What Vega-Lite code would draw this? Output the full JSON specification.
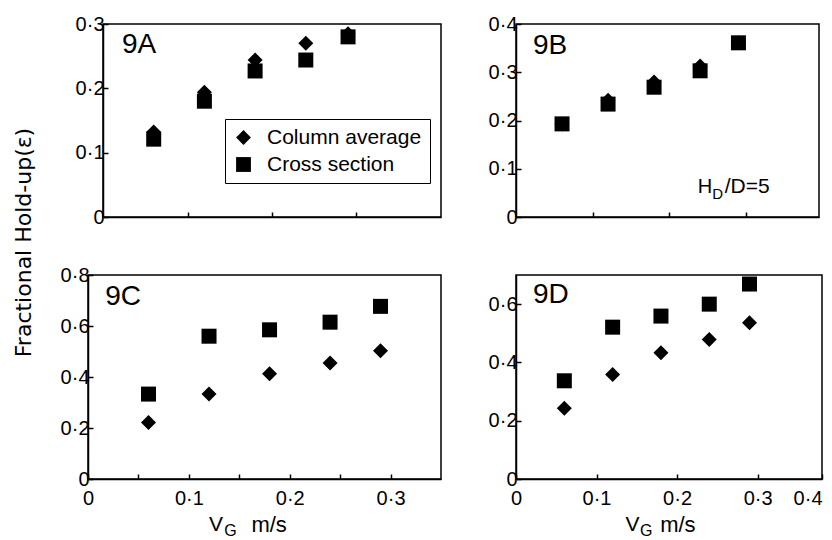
{
  "$schema": "https://vega.github.io/schema/vega-lite/v6.json",
  "background": "white",
  "padding": {"left": 13, "top": 13, "right": 2, "bottom": 0},
  "title": {"text": "Fractional Hold-up(ε)", "orient": "left", "anchor": "middle", "font": "DejaVu Sans", "fontSize": 22, "fontWeight": "normal", "color": "black", "offset": 17, "dx": 34},
  "datasets": {
    "holdup": [
      {"panel": "9A", "series": "Column average", "vg": 0.06, "holdup": 0.132},
      {"panel": "9A", "series": "Column average", "vg": 0.12, "holdup": 0.194},
      {"panel": "9A", "series": "Column average", "vg": 0.18, "holdup": 0.244},
      {"panel": "9A", "series": "Column average", "vg": 0.24, "holdup": 0.270},
      {"panel": "9A", "series": "Column average", "vg": 0.29, "holdup": 0.285},
      {"panel": "9A", "series": "Cross section", "vg": 0.06, "holdup": 0.121},
      {"panel": "9A", "series": "Cross section", "vg": 0.12, "holdup": 0.180},
      {"panel": "9A", "series": "Cross section", "vg": 0.18, "holdup": 0.227},
      {"panel": "9A", "series": "Cross section", "vg": 0.24, "holdup": 0.244},
      {"panel": "9A", "series": "Cross section", "vg": 0.29, "holdup": 0.280},
      {"panel": "9B", "series": "Column average", "vg": 0.06, "holdup": 0.193},
      {"panel": "9B", "series": "Column average", "vg": 0.12, "holdup": 0.242},
      {"panel": "9B", "series": "Column average", "vg": 0.18, "holdup": 0.280},
      {"panel": "9B", "series": "Column average", "vg": 0.24, "holdup": 0.313},
      {"panel": "9B", "series": "Column average", "vg": 0.29, "holdup": 0.361},
      {"panel": "9B", "series": "Cross section", "vg": 0.06, "holdup": 0.193},
      {"panel": "9B", "series": "Cross section", "vg": 0.12, "holdup": 0.234},
      {"panel": "9B", "series": "Cross section", "vg": 0.18, "holdup": 0.269},
      {"panel": "9B", "series": "Cross section", "vg": 0.24, "holdup": 0.303},
      {"panel": "9B", "series": "Cross section", "vg": 0.29, "holdup": 0.361},
      {"panel": "9C", "series": "Column average", "vg": 0.06, "holdup": 0.222},
      {"panel": "9C", "series": "Column average", "vg": 0.12, "holdup": 0.333},
      {"panel": "9C", "series": "Column average", "vg": 0.18, "holdup": 0.413},
      {"panel": "9C", "series": "Column average", "vg": 0.24, "holdup": 0.455},
      {"panel": "9C", "series": "Column average", "vg": 0.29, "holdup": 0.503},
      {"panel": "9C", "series": "Cross section", "vg": 0.06, "holdup": 0.333},
      {"panel": "9C", "series": "Cross section", "vg": 0.12, "holdup": 0.560},
      {"panel": "9C", "series": "Cross section", "vg": 0.18, "holdup": 0.585},
      {"panel": "9C", "series": "Cross section", "vg": 0.24, "holdup": 0.615},
      {"panel": "9C", "series": "Cross section", "vg": 0.29, "holdup": 0.677},
      {"panel": "9D", "series": "Column average", "vg": 0.06, "holdup": 0.243},
      {"panel": "9D", "series": "Column average", "vg": 0.12, "holdup": 0.359},
      {"panel": "9D", "series": "Column average", "vg": 0.18, "holdup": 0.433},
      {"panel": "9D", "series": "Column average", "vg": 0.24, "holdup": 0.479},
      {"panel": "9D", "series": "Column average", "vg": 0.29, "holdup": 0.536},
      {"panel": "9D", "series": "Cross section", "vg": 0.06, "holdup": 0.337},
      {"panel": "9D", "series": "Cross section", "vg": 0.12, "holdup": 0.521},
      {"panel": "9D", "series": "Cross section", "vg": 0.18, "holdup": 0.559},
      {"panel": "9D", "series": "Cross section", "vg": 0.24, "holdup": 0.600},
      {"panel": "9D", "series": "Cross section", "vg": 0.29, "holdup": 0.669}
    ]
  },
  "config": {
    "view": {"stroke": "black", "strokeWidth": 1.5},
    "font": "Liberation Sans",
    "axis": {"grid": false, "domainColor": "black", "domainWidth": 1.5, "tickColor": "black", "tickWidth": 1.5, "tickSize": -5, "labelColor": "black", "labelFont": "Liberation Sans", "labelFontSize": 20, "labelOverlap": false, "labelBound": false, "labelPadding": 4, "title": null},
    "axisX": {"labelFlush": false, "labelPadding": 14},
    "text": {"color": "black", "font": "Liberation Sans"}
  },
  "spacing": 36,
  "resolve": {"scale": {"shape": "independent"}, "legend": {"shape": "independent"}},
  "vconcat": [
    {
      "spacing": 33,
      "resolve": {"scale": {"shape": "independent"}, "legend": {"shape": "independent"}},
      "hconcat": [
        {
          "bounds": "flush",
          "spacing": 14,
          "resolve": {"scale": {"shape": "independent"}, "legend": {"shape": "independent"}},
          "hconcat": [
            {
              "width": 1, "height": 1,
              "view": {"stroke": null},
              "data": {"values": []},
              "mark": {"type": "point", "opacity": 0},
              "encoding": {}
            },
            {
              "width": 338, "height": 193,
              "layer": [
                {
                  "data": {"name": "holdup"},
                  "transform": [{"filter": "datum.panel == '9A'"}],
                  "mark": {"type": "point", "filled": true, "opacity": 1, "color": "black", "size": 225},
                  "encoding": {
                    "x": {"field": "vg", "type": "quantitative", "scale": {"domain": [0, 0.4], "nice": false}, "axis": {"values": [0.1, 0.2, 0.3], "labels": false, "title": null}},
                    "y": {"field": "holdup", "type": "quantitative", "scale": {"domain": [0, 0.3], "nice": false}, "axis": {"values": [0, 0.05, 0.1, 0.15, 0.2, 0.25, 0.3], "title": null, "minExtent": 34, "maxExtent": 34, "labelExpr": "abs(datum.value*10 - round(datum.value*10)) > 0.01 ? '' : (datum.value == 0 ? '0' : replace(format(datum.value, '.1f'), '.', '·'))"}},
                    "shape": {"field": "series", "type": "nominal", "scale": {"domain": ["Column average", "Cross section"], "range": ["diamond", "square"]},
                      "legend": {"title": null, "orient": "none", "legendX": 122, "legendY": 95, "strokeColor": "black", "fillColor": "white", "padding": 8, "labelFont": "Liberation Sans", "labelFontSize": 21, "labelColor": "black", "symbolSize": 220, "symbolFillColor": "black", "symbolStrokeColor": "black", "symbolOpacity": 1, "labelOffset": 13, "rowPadding": 5, "labelLimit": 300}}
                  }
                },
                {
                  "data": {"values": [{}]},
                  "mark": {"type": "text", "text": "9A", "align": "left", "baseline": "alphabetic", "fontSize": 28},
                  "encoding": {"x": {"datum": 0.0225}, "y": {"datum": 0.255}}
                }
              ]
            }
          ]
        },
        {
          "width": 303, "height": 193,
          "layer": [
            {
              "data": {"name": "holdup"},
              "transform": [{"filter": "datum.panel == '9B'"}],
              "mark": {"type": "point", "filled": true, "opacity": 1, "color": "black", "size": 225},
              "encoding": {
                "x": {"field": "vg", "type": "quantitative", "scale": {"domain": [0, 0.395], "nice": false}, "axis": {"values": [0.1, 0.2, 0.3], "labels": false, "title": null}},
                "y": {"field": "holdup", "type": "quantitative", "scale": {"domain": [0, 0.4], "nice": false}, "axis": {"values": [0, 0.05, 0.1, 0.15, 0.2, 0.25, 0.3, 0.35, 0.4], "title": null, "minExtent": 40, "maxExtent": 40, "labelExpr": "abs(datum.value*10 - round(datum.value*10)) > 0.01 ? '' : (datum.value == 0 ? '0' : replace(format(datum.value, '.1f'), '.', '·'))"}},
                "shape": {"field": "series", "type": "nominal", "scale": {"domain": ["Column average", "Cross section"], "range": ["diamond", "square"]}, "legend": null}
              }
            },
            {
              "data": {"values": [{}]},
              "mark": {"type": "text", "text": "9B", "align": "left", "baseline": "alphabetic", "fontSize": 28},
              "encoding": {"x": {"datum": 0.022}, "y": {"datum": 0.338}}
            },
            {
              "data": {"values": [{}]},
              "mark": {"type": "text", "text": "H", "align": "left", "baseline": "alphabetic", "fontSize": 20},
              "encoding": {"x": {"datum": 0.237}, "y": {"datum": 0.05}}
            },
            {
              "data": {"values": [{}]},
              "mark": {"type": "text", "text": "D", "align": "left", "baseline": "alphabetic", "fontSize": 15},
              "encoding": {"x": {"datum": 0.256}, "y": {"datum": 0.037}}
            },
            {
              "data": {"values": [{}]},
              "mark": {"type": "text", "text": "/D=5", "align": "left", "baseline": "alphabetic", "fontSize": 21},
              "encoding": {"x": {"datum": 0.272}, "y": {"datum": 0.05}}
            }
          ]
        }
      ]
    },
    {
      "spacing": 33,
      "resolve": {"scale": {"shape": "independent"}, "legend": {"shape": "independent"}},
      "hconcat": [
        {
          "width": 353, "height": 204,
          "layer": [
            {
              "data": {"name": "holdup"},
              "transform": [{"filter": "datum.panel == '9C'"}],
              "mark": {"type": "point", "filled": true, "opacity": 1, "color": "black", "size": 225},
              "encoding": {
                "x": {"field": "vg", "type": "quantitative", "scale": {"domain": [0, 0.35], "nice": false}, "axis": {"values": [0, 0.05, 0.1, 0.15, 0.2, 0.25, 0.3], "title": null, "labelExpr": "abs(datum.value*10 - round(datum.value*10)) > 0.01 ? '' : (datum.value == 0 ? '0' : replace(format(datum.value, '.1f'), '.', '·'))"}},
                "y": {"field": "holdup", "type": "quantitative", "scale": {"domain": [0, 0.8], "nice": false}, "axis": {"values": [0, 0.1, 0.2, 0.3, 0.4, 0.5, 0.6, 0.7, 0.8], "title": null, "minExtent": 34, "maxExtent": 34, "labelExpr": "abs(datum.value*5 - round(datum.value*5)) > 0.01 ? '' : (datum.value == 0 ? '0' : replace(format(datum.value, '.1f'), '.', '·'))"}},
                "shape": {"field": "series", "type": "nominal", "scale": {"domain": ["Column average", "Cross section"], "range": ["diamond", "square"]}, "legend": null}
              }
            },
            {
              "data": {"values": [{}]},
              "mark": {"type": "text", "text": "9C", "align": "left", "baseline": "alphabetic", "fontSize": 28},
              "encoding": {"x": {"datum": 0.017}, "y": {"datum": 0.682}}
            },
            {
              "data": {"values": [{}]},
              "mark": {"type": "text", "text": "V", "align": "left", "baseline": "alphabetic", "fontSize": 21, "dy": 52},
              "encoding": {"x": {"datum": 0.12}, "y": {"datum": 0}}
            },
            {
              "data": {"values": [{}]},
              "mark": {"type": "text", "text": "G", "align": "left", "baseline": "alphabetic", "fontSize": 16, "dy": 57},
              "encoding": {"x": {"datum": 0.135}, "y": {"datum": 0}}
            },
            {
              "data": {"values": [{}]},
              "mark": {"type": "text", "text": "m/s", "align": "left", "baseline": "alphabetic", "fontSize": 22, "dy": 53},
              "encoding": {"x": {"datum": 0.162}, "y": {"datum": 0}}
            }
          ]
        },
        {
          "width": 306, "height": 204,
          "layer": [
            {
              "data": {"name": "holdup"},
              "transform": [{"filter": "datum.panel == '9D'"}],
              "mark": {"type": "point", "filled": true, "opacity": 1, "color": "black", "size": 225},
              "encoding": {
                "x": {"field": "vg", "type": "quantitative", "scale": {"domain": [0, 0.38], "nice": false}, "axis": {"values": [0, 0.1, 0.2, 0.3, 0.38], "title": null, "labelAlign": {"condition": {"test": "datum.value > 0.35", "value": "right"}, "value": "center"}, "labelExpr": "datum.value == 0 ? '0' : (datum.value > 0.35 ? '0·4' : replace(format(datum.value, '.1f'), '.', '·'))"}},
                "y": {"field": "holdup", "type": "quantitative", "scale": {"domain": [0, 0.7], "nice": false}, "axis": {"values": [0, 0.1, 0.2, 0.3, 0.4, 0.5, 0.6, 0.7], "title": null, "minExtent": 40, "maxExtent": 40, "labelExpr": "abs(datum.value*5 - round(datum.value*5)) > 0.01 ? '' : (datum.value == 0 ? '0' : replace(format(datum.value, '.1f'), '.', '·'))"}},
                "shape": {"field": "series", "type": "nominal", "scale": {"domain": ["Column average", "Cross section"], "range": ["diamond", "square"]}, "legend": null}
              }
            },
            {
              "data": {"values": [{}]},
              "mark": {"type": "text", "text": "9D", "align": "left", "baseline": "alphabetic", "fontSize": 28},
              "encoding": {"x": {"datum": 0.021}, "y": {"datum": 0.604}}
            },
            {
              "data": {"values": [{}]},
              "mark": {"type": "text", "text": "V", "align": "left", "baseline": "alphabetic", "fontSize": 21, "dy": 52},
              "encoding": {"x": {"datum": 0.136}, "y": {"datum": 0}}
            },
            {
              "data": {"values": [{}]},
              "mark": {"type": "text", "text": "G", "align": "left", "baseline": "alphabetic", "fontSize": 16, "dy": 57},
              "encoding": {"x": {"datum": 0.154}, "y": {"datum": 0}}
            },
            {
              "data": {"values": [{}]},
              "mark": {"type": "text", "text": "m/s", "align": "left", "baseline": "alphabetic", "fontSize": 22, "dy": 53},
              "encoding": {"x": {"datum": 0.179}, "y": {"datum": 0}}
            }
          ]
        }
      ]
    }
  ]
}
